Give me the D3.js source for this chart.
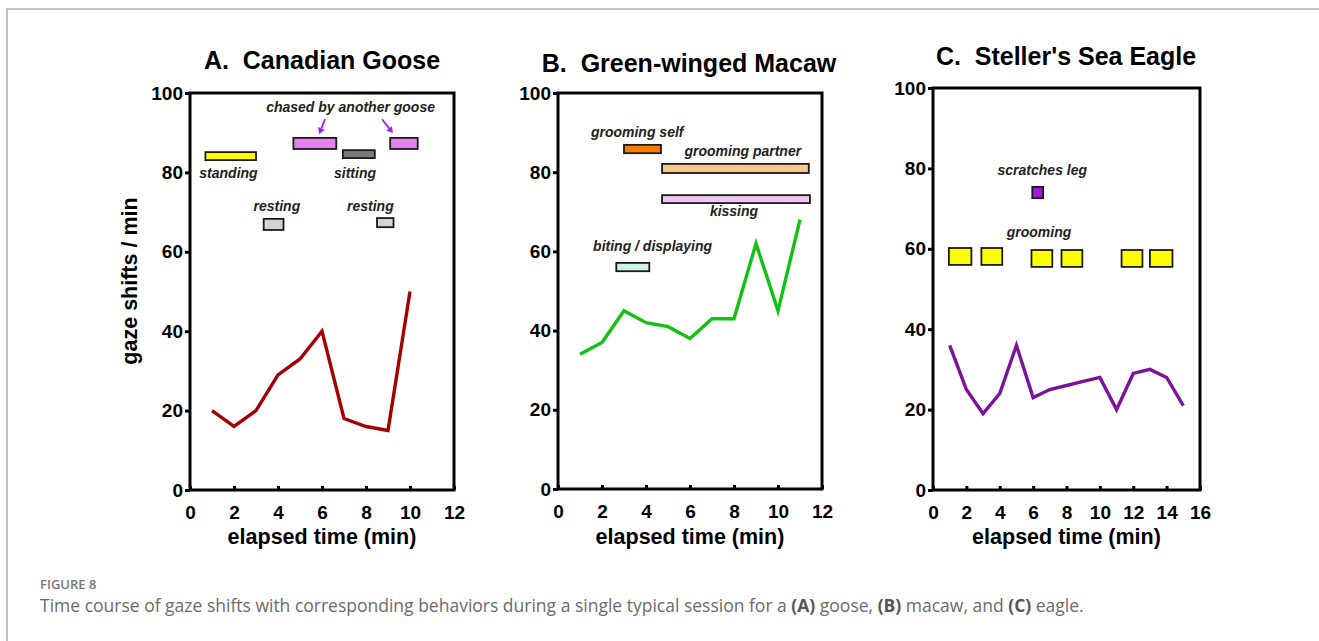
<!DOCTYPE html>
<html lang="en">
<head>
  <meta charset="UTF-8">
  <title>Figure 8 - gaze shifts</title>
  <script src="https://d3js.org/d3.v7.min.js"></script>
  <style>
    body {
      margin: 0;
      padding: 0;
      background: #fff;
    }
    svg {
      display: block;
      font-family: "Liberation Sans", Arial, sans-serif;
    }
    .tick text {
      font-size: 19px;
      font-weight: bold;
      fill: #000;
    }
    .title {
      font-size: 25px;
      font-weight: bold;
    }
    .axis-title {
      font-size: 21.5px;
      font-weight: bold;
    }
    .note {
      font-size: 14px;
      font-weight: bold;
      font-style: italic;
      fill: #222;
    }
    .caption {
      font-family: "Open Sans", "Noto Sans", sans-serif;
      fill: #6b6b6b;
    }
  </style>
</head>
<body>
<svg id="fig" width="1319" height="641"></svg>

<script>
// ---- data ----
const gooseTime = [1, 2, 3, 4, 5, 6, 7, 8, 9, 10];
const gooseShifts = [20, 16, 20, 29, 33, 40, 18, 16, 15, 50];

const macawTime = [1, 2, 3, 4, 5, 6, 7, 8, 9, 10, 11];
const macawShifts = [34, 37, 45, 42, 41, 38, 43, 43, 62, 45, 68];

const eagleTime = [1, 2, 3, 4, 5, 6, 7, 8, 9, 10, 11, 12, 13, 14, 15];
const eagleShifts = [36, 25, 19, 24, 36, 23, 25, 26, 27, 28, 20, 29, 30, 28, 21];

const yTicks = [0, 20, 40, 60, 80, 100];
const xTicks12 = [0, 2, 4, 6, 8, 10, 12];
const xTicks16 = [0, 2, 4, 6, 8, 10, 12, 14, 16];

// behaviour bars: [behaviour, start, end, low, high] (time in min, value in gaze shifts/min)
const gooseBars = [
  ["standing", 0.7, 3.0, 83.1, 85.1],
  ["chased", 4.7, 6.65, 85.9, 88.7],
  ["sitting", 6.95, 8.4, 83.6, 85.6],
  ["chased", 9.1, 10.35, 85.9, 88.7],
  ["resting", 3.35, 4.25, 65.5, 68.3],
  ["resting", 8.5, 9.25, 66.2, 68.5]
];
const macawBars = [
  ["grooming self", 3.0, 4.68, 84.8, 86.9],
  ["grooming partner", 4.73, 11.4, 79.8, 82.1],
  ["kissing", 4.73, 11.45, 72.2, 74.2],
  ["biting", 2.65, 4.15, 55.0, 57.1]
];
const eagleBars = [
  ["scratches leg", 5.95, 6.6, 72.6, 75.4],
  ["grooming", 0.95, 2.3, 56.0, 60.2],
  ["grooming", 2.9, 4.15, 56.0, 60.2],
  ["grooming", 5.9, 7.15, 55.5, 59.7],
  ["grooming", 7.7, 8.95, 55.5, 59.7],
  ["grooming", 11.3, 12.55, 55.5, 59.7],
  ["grooming", 13.0, 14.35, 55.5, 59.7]
];

// annotation labels: [text, time, value]
const gooseNotes = [
  ["standing", 1.75, 78.6],
  ["chased by another goose", 7.3, 95.2],
  ["sitting", 7.5, 78.6],
  ["resting", 3.95, 70.3],
  ["resting", 8.2, 70.3]
];
const macawNotes = [
  ["grooming self", 3.6, 89.0],
  ["grooming partner", 8.4, 84.0],
  ["kissing", 8.0, 69.0],
  ["biting / displaying", 4.3, 60.0]
];
const eagleNotes = [
  ["scratches leg", 6.55, 78.3],
  ["grooming", 6.35, 62.9]
];

// arrows from label to "chased" bars: [t0, v0, t1, v1]
const gooseArrows = [
  [6.14, 93.4, 5.87, 89.7],
  [8.73, 93.4, 9.22, 89.9]
];

const barColors = {
  "standing": "#ffff00",
  "chased": "#e283ee",
  "sitting": "#7a7a7a",
  "resting": "#d4d4d4",
  "grooming self": "#ff7b00",
  "grooming partner": "#fbc68e",
  "kissing": "#efc9f2",
  "biting": "#cff2e6",
  "scratches leg": "#a514d9",
  "grooming": "#ffff00"
};

// ---- drawing ----
const svg = d3.select("#fig");

// page frame
svg.append("path")
  .attr("d", "M7,641 V9 H1319")
  .attr("fill", "none")
  .attr("stroke", "#b0b0b0")
  .attr("stroke-width", 1.5);

function drawPanel(cfg) {
  const x = d3.scaleLinear().domain([0, cfg.xMax]).range([cfg.left, cfg.right]);
  const y = d3.scaleLinear().domain([0, 100]).range([cfg.bottom, cfg.top]);
  const g = svg.append("g");

  // x axis
  const xa = g.append("g")
    .attr("transform", `translate(0,${cfg.bottom})`)
    .call(d3.axisBottom(x).tickValues(cfg.xTicks).tickSizeInner(-4).tickSizeOuter(0).tickPadding(16));
  xa.select(".domain").remove();
  xa.selectAll(".tick line").attr("stroke", "#000").attr("stroke-width", 3);

  // y axis
  const ya = g.append("g")
    .attr("transform", `translate(${cfg.left},0)`)
    .call(d3.axisLeft(y).tickValues(yTicks).tickSizeInner(5).tickSizeOuter(0).tickPadding(2));
  ya.select(".domain").remove();
  ya.selectAll(".tick line").attr("stroke", "#000").attr("stroke-width", 3);

  // plot box
  g.append("rect")
    .attr("x", cfg.left)
    .attr("y", cfg.top)
    .attr("width", cfg.right - cfg.left)
    .attr("height", cfg.bottom - cfg.top)
    .attr("fill", "none")
    .attr("stroke", "#000")
    .attr("stroke-width", 3);

  // behaviour bars
  g.selectAll(".bar")
    .data(cfg.bars)
    .enter().append("rect")
    .attr("class", "bar")
    .attr("x", d => x(d[1]))
    .attr("y", d => y(d[4]))
    .attr("width", d => x(d[2]) - x(d[1]))
    .attr("height", d => y(d[3]) - y(d[4]))
    .attr("fill", d => barColors[d[0]])
    .attr("stroke", "#1a1a1a")
    .attr("stroke-width", 1.8);

  g.selectAll(".note")
    .data(cfg.notes)
    .enter().append("text")
    .attr("class", "note")
    .attr("x", d => x(d[1]))
    .attr("y", d => y(d[2]))
    .attr("text-anchor", "middle")
    .text(d => d[0]);

  (cfg.arrows || []).forEach(a => {
    const x0 = x(a[0]), y0 = y(a[1]), x1 = x(a[2]), y1 = y(a[3]);
    const ang = Math.atan2(y1 - y0, x1 - x0);
    const hl = 6, hw = 3.5;
    const bx = x1 - hl * Math.cos(ang), by = y1 - hl * Math.sin(ang);
    g.append("line")
      .attr("x1", x0).attr("y1", y0).attr("x2", bx).attr("y2", by)
      .attr("stroke", "#a21cf0").attr("stroke-width", 1.8);
    g.append("path")
      .attr("d", `M${x1},${y1} L${bx - hw * Math.sin(ang)},${by + hw * Math.cos(ang)} L${bx + hw * Math.sin(ang)},${by - hw * Math.cos(ang)} Z`)
      .attr("fill", "#a21cf0");
  });

  // data line
  const line = d3.line().x(d => x(d[0])).y(d => y(d[1]));
  g.append("path")
    .datum(d3.zip(cfg.time, cfg.values))
    .attr("d", line)
    .attr("fill", "none")
    .attr("stroke", cfg.color)
    .attr("stroke-width", 3.4)
    .attr("stroke-linejoin", "miter");

  // titles
  g.append("text")
    .attr("class", "title")
    .attr("x", cfg.titleX)
    .attr("y", cfg.titleY)
    .attr("text-anchor", "middle")
    .attr("xml:space", "preserve")
    .text(cfg.title);

  g.append("text")
    .attr("class", "axis-title")
    .attr("x", (cfg.left + cfg.right) / 2)
    .attr("y", 544)
    .attr("text-anchor", "middle")
    .text("elapsed time (min)");
}

drawPanel({
  title: "A.  Canadian Goose", titleX: 322, titleY: 69,
  left: 190, right: 454, top: 93, bottom: 490, xMax: 12, xTicks: xTicks12,
  time: gooseTime, values: gooseShifts, color: "#a30000",
  bars: gooseBars, notes: gooseNotes, arrows: gooseArrows
});
drawPanel({
  title: "B.  Green-winged Macaw", titleX: 689, titleY: 72,
  left: 558, right: 822, top: 93, bottom: 489, xMax: 12, xTicks: xTicks12,
  time: macawTime, values: macawShifts, color: "#13c113",
  bars: macawBars, notes: macawNotes
});
drawPanel({
  title: "C.  Steller's Sea Eagle", titleX: 1066, titleY: 65,
  left: 933, right: 1200, top: 88, bottom: 490, xMax: 16, xTicks: xTicks16,
  time: eagleTime, values: eagleShifts, color: "#7c119a",
  bars: eagleBars, notes: eagleNotes
});

// y axis title (panel A only)
svg.append("text")
  .attr("class", "axis-title")
  .attr("transform", "translate(137,281) rotate(-90)")
  .attr("text-anchor", "middle")
  .text("gaze shifts / min");

// caption
svg.append("text")
  .attr("class", "caption")
  .attr("x", 40).attr("y", 589)
  .style("font-size", "13px")
  .style("font-weight", 600)
  .style("fill", "#777")
  .text("FIGURE 8");

const cap = svg.append("text")
  .attr("class", "caption")
  .attr("x", 40).attr("y", 612)
  .style("font-size", "17.5px");
const capParts = [
  ["Time course of gaze shifts with corresponding behaviors during a single typical session for a ", false],
  ["(A)", true], [" goose, ", false], ["(B)", true], [" macaw, and ", false], ["(C)", true], [" eagle.", false]
];
capParts.forEach(p => {
  cap.append("tspan")
    .style("font-weight", p[1] ? 700 : 400)
    .style("fill", p[1] ? "#555" : "#6b6b6b")
    .text(p[0]);
});
</script>
</body>
</html>
